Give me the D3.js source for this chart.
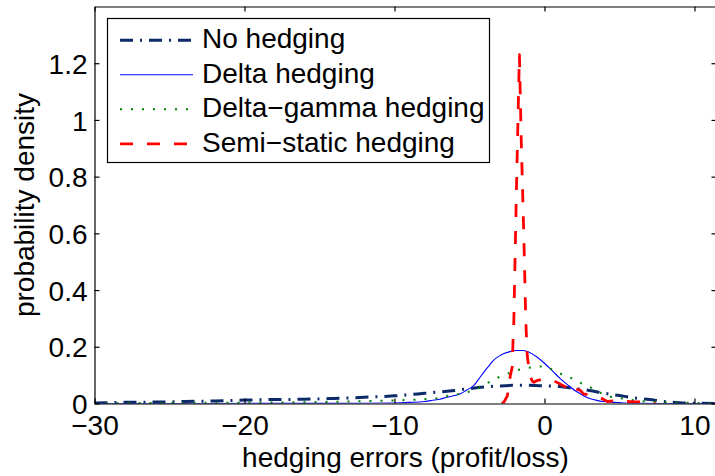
<!DOCTYPE html>
<html>
<head>
<meta charset="utf-8">
<script src="https://cdn.jsdelivr.net/npm/d3@7"></script>
<style>
  html, body { margin: 0; padding: 0; background: #fff; }
  svg { display: block; }
  text { font-family: "Liberation Sans", Arial, Helvetica, sans-serif; fill: #000; }
</style>
</head>
<body>
<svg id="chart" width="715" height="476"></svg>
<script>
// Hedging error densities (profit/loss) for four hedging strategies.
const seriesNames = ["No hedging", "Delta hedging", "Delta\u2212gamma hedging", "Semi\u2212static hedging"];

const noHedgeX = [-30, -28, -26, -24, -22, -20, -18, -16, -14, -12, -10, -8, -6, -4, -3, -2, -1, 0, 1, 2, 3, 4, 5, 6, 7, 8, 9, 10, 11.5];
const noHedgeY = [0.002, 0.004, 0.005, 0.007, 0.009, 0.012, 0.014, 0.015, 0.018, 0.022, 0.027, 0.036, 0.046, 0.058, 0.062, 0.064, 0.064, 0.062, 0.06, 0.053, 0.046, 0.036, 0.028, 0.02, 0.014, 0.007, 0.003, 0.001, 0];

const deltaX = [-30, -14, -12, -10, -9, -8, -7.6, -7, -6.5, -6, -5.6, -5.2, -4.7, -4.4, -4.05, -3.7, -3.4, -3.0, -2.7, -2.3, -1.9, -1.4, -1.0, -0.5, 0, 0.4, 0.7, 1.07, 1.4, 1.73, 2.05, 2.4, 2.7, 3.07, 3.5, 3.9, 4.6, 5.3, 6, 8, 11.5];
const deltaY = [0, 0.0005, 0.001, 0.002, 0.004, 0.007, 0.01, 0.015, 0.022, 0.028, 0.034, 0.047, 0.064, 0.085, 0.11, 0.133, 0.152, 0.168, 0.176, 0.183, 0.187, 0.187, 0.18, 0.164, 0.142, 0.122, 0.106, 0.087, 0.072, 0.058, 0.045, 0.034, 0.025, 0.017, 0.011, 0.007, 0.004, 0.002, 0.001, 0, 0];

const deltaGammaX = [-30, -25, -20, -15, -12, -10, -8, -7, -6.7, -6, -5.33, -4.65, -4.05, -3.4, -2.75, -2.1, -1.4, -0.7, 0, 0.58, 1.25, 1.9, 2.5, 3.18, 3.8, 4.4, 5.07, 5.7, 6.5, 7.2, 8.6, 10, 11.5];
const deltaGammaY = [0.001, 0.002, 0.003, 0.005, 0.008, 0.011, 0.015, 0.02, 0.024, 0.031, 0.038, 0.048, 0.064, 0.084, 0.099, 0.112, 0.123, 0.128, 0.131, 0.117, 0.101, 0.087, 0.07, 0.054, 0.036, 0.024, 0.019, 0.013, 0.008, 0.006, 0.004, 0.002, 0.001];

const semiStaticX = [-2.85, -2.7, -2.47, -2.27, -2.15, -2.09, -2.05, -1.87, -1.67, -1.55, -1.38, -1.25, -1.15, -1.05, -0.93, -0.8, -0.7, -0.5, -0.2, 0.1, 0.6, 1.0, 1.4, 1.55, 1.65, 1.75, 2.1, 2.4, 2.6, 3.0, 3.4, 3.85, 4.2, 4.6, 5.07, 5.6, 6.1, 6.6, 7.0, 7.4];
const semiStaticY = [0, 0.005, 0.028, 0.1, 0.128, 0.23, 0.27, 0.75, 1.23, 0.93, 0.6, 0.3, 0.17, 0.13, 0.093, 0.078, 0.075, 0.081, 0.085, 0.083, 0.081, 0.07, 0.058, 0.046, 0.05, 0.058, 0.052, 0.046, 0.034, 0.03, 0.022, 0.017, 0.007, 0.009, 0.01, 0.007, 0.006, 0.005, 0.004, 0];

const xTicks = [-30, -20, -10, 0, 10];
const yTicks = [0, 0.2, 0.4, 0.6, 0.8, 1, 1.2];
const xLabel = "hedging errors (profit/loss)";
const yLabel = "probability density";

const svg = d3.select("#chart");
const plotLeft = 94.5, plotRight = 716.5, plotTop = 6.5, plotBottom = 403.5;

const x = d3.scaleLinear().domain([-30, 11.47]).range([plotLeft, plotRight]);
const y = d3.scaleLinear().domain([0, 1.4]).range([plotBottom, plotTop]);

const zip = (xs, ys) => xs.map((v, i) => [v, ys[i]]);

svg.append("defs").append("clipPath").attr("id", "plotClip")
  .append("rect").attr("x", plotLeft).attr("y", plotTop)
  .attr("width", plotRight - plotLeft).attr("height", plotBottom - plotTop);

const smooth = d3.line().x(d => x(d[0])).y(d => y(d[1])).curve(d3.curveMonotoneX);
const straight = d3.line().x(d => x(d[0])).y(d => y(d[1]));

const styles = [
  { color: "#0c2a6a", width: 3, dash: "13,7,2,7" },
  { color: "#0000ff", width: 1.1, dash: null },
  { color: "#008000", width: 2, dash: "2,9" },
  { color: "#ff0000", width: 2.8, dash: "13,14" }
];

const series = [
  { data: zip(noHedgeX, noHedgeY), gen: smooth },
  { data: zip(deltaX, deltaY), gen: smooth },
  { data: zip(deltaGammaX, deltaGammaY), gen: smooth },
  { data: zip(semiStaticX, semiStaticY), gen: straight }
];

const plot = svg.append("g").attr("clip-path", "url(#plotClip)");
series.forEach((s, i) => {
  const st = styles[i];
  plot.append("path")
    .attr("d", s.gen(s.data))
    .attr("fill", "none")
    .attr("stroke", st.color)
    .attr("stroke-width", st.width)
    .attr("stroke-linejoin", "round")
    .attr("stroke-dasharray", st.dash);
});

// Axes frame and inward ticks
const fmtX = d => d < 0 ? "\u2212" + Math.abs(d) : String(d);
const fmtY = d => String(+d.toFixed(1));

const axB = svg.append("g").attr("transform", `translate(0,${plotBottom})`)
  .call(d3.axisBottom(x).tickValues(xTicks).tickSizeInner(-5).tickSizeOuter(0).tickPadding(0).tickFormat(fmtX));
axB.selectAll("text").attr("dy", null).attr("y", 31);

svg.append("g").attr("transform", `translate(0,${plotTop})`)
  .call(d3.axisTop(x).tickValues(xTicks).tickSizeInner(-5).tickSizeOuter(0).tickFormat(""));

const axL = svg.append("g").attr("transform", `translate(${plotLeft},0)`)
  .call(d3.axisLeft(y).tickValues(yTicks).tickSizeInner(-5).tickSizeOuter(0).tickPadding(0).tickFormat(fmtY));
axL.selectAll("text").attr("x", -7).attr("dy", "0.36em");

svg.append("g").attr("transform", `translate(${plotRight},0)`)
  .call(d3.axisRight(y).tickValues(yTicks).tickSizeInner(-5).tickSizeOuter(0).tickFormat(""));

svg.selectAll(".domain").attr("stroke", "#000").attr("stroke-width", 1.2);
svg.selectAll(".tick line").attr("stroke", "#000").attr("stroke-width", 1.2);
svg.selectAll("g[font-family]").attr("font-family", null).attr("font-size", null);
svg.selectAll(".tick text").style("font-size", "28px");

// Axis titles
svg.append("text")
  .attr("x", (plotLeft + plotRight) / 2).attr("y", 467)
  .attr("text-anchor", "middle").style("font-size", "28px")
  .text(xLabel);

svg.append("text")
  .attr("transform", `translate(34,${(plotTop + plotBottom) / 2}) rotate(-90)`)
  .attr("text-anchor", "middle").style("font-size", "28px")
  .text(yLabel);

// Legend
const lg = svg.append("g");
lg.append("rect")
  .attr("x", 107.5).attr("y", 18.5).attr("width", 382).attr("height", 144)
  .attr("fill", "#fff").attr("stroke", "#000").attr("stroke-width", 1.2);

seriesNames.forEach((name, i) => {
  const base = 48.3 + 34.5 * i;
  const st = styles[i];
  lg.append("line")
    .attr("x1", 120).attr("x2", 193)
    .attr("y1", base - 8).attr("y2", base - 8)
    .attr("stroke", st.color)
    .attr("stroke-width", st.width)
    .attr("stroke-dasharray", st.dash);
  lg.append("text")
    .attr("x", 202).attr("y", base)
    .style("font-size", "28px")
    .text(name);
});
</script>
</body>
</html>
